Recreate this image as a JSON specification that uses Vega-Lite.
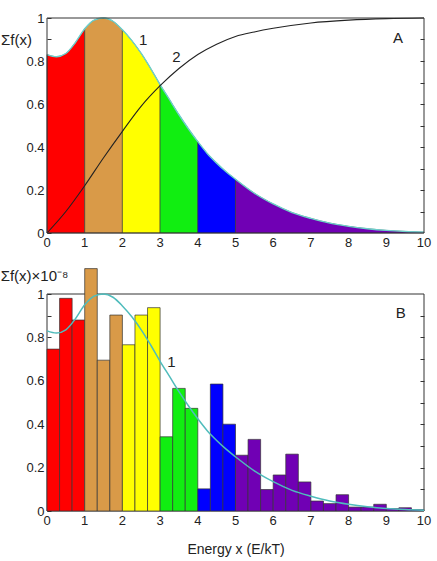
{
  "$schema": "https://vega.github.io/schema/vega-lite/v6.json",
  "padding": {"left": 0, "top": 12, "right": 8, "bottom": 4},
  "autosize": {"type": "pad"},
  "bounds": "flush",
  "spacing": 61,
  "config": {
    "view": {"stroke": null},
    "font": "Liberation Sans",
    "axis": {"labelFont": "Liberation Sans", "labelFontSize": 13, "labelColor": "#222", "titleFont": "Liberation Sans", "titleFontWeight": "normal", "titleColor": "#222", "domain": false, "grid": false, "tickColor": "#333", "labelOverlap": false}
  },
  "datasets": {
    "frame": [{"a": 1}],
    "xt": [{"v": 0}, {"v": 1}, {"v": 2}, {"v": 3}, {"v": 4}, {"v": 5}, {"v": 6}, {"v": 7}, {"v": 8}, {"v": 9}, {"v": 10}],
    "curve": [
      {"x": 0, "y": 0.83}, {"x": 0.25, "y": 0.82}, {"x": 0.5, "y": 0.835}, {"x": 0.75, "y": 0.885},
      {"x": 1, "y": 0.95}, {"x": 1.25, "y": 0.99}, {"x": 1.5, "y": 1.0}, {"x": 1.75, "y": 0.985},
      {"x": 2, "y": 0.945}, {"x": 2.25, "y": 0.895}, {"x": 2.5, "y": 0.835}, {"x": 2.75, "y": 0.765},
      {"x": 3, "y": 0.69}, {"x": 3.25, "y": 0.62}, {"x": 3.5, "y": 0.55}, {"x": 3.75, "y": 0.485},
      {"x": 4, "y": 0.425}, {"x": 4.25, "y": 0.37}, {"x": 4.5, "y": 0.325}, {"x": 4.75, "y": 0.285},
      {"x": 5, "y": 0.25}, {"x": 5.5, "y": 0.185}, {"x": 6, "y": 0.135}, {"x": 6.5, "y": 0.095},
      {"x": 7, "y": 0.068}, {"x": 7.5, "y": 0.046}, {"x": 8, "y": 0.031}, {"x": 8.5, "y": 0.02},
      {"x": 9, "y": 0.012}, {"x": 9.5, "y": 0.007}, {"x": 10, "y": 0.004}
    ],
    "cum": [
      {"x": 0, "y": 0}, {"x": 0.5, "y": 0.1}, {"x": 1, "y": 0.22}, {"x": 1.5, "y": 0.35},
      {"x": 2, "y": 0.473}, {"x": 2.5, "y": 0.59}, {"x": 3, "y": 0.685}, {"x": 3.5, "y": 0.765},
      {"x": 4, "y": 0.83}, {"x": 4.5, "y": 0.878}, {"x": 5, "y": 0.914}, {"x": 5.5, "y": 0.935},
      {"x": 6, "y": 0.952}, {"x": 7, "y": 0.977}, {"x": 8, "y": 0.99}, {"x": 9, "y": 0.997}, {"x": 10, "y": 1.0}
    ],
    "areaA": [
      {"x": 0, "y": 0.83, "seg": "s0"}, {"x": 0.25, "y": 0.82, "seg": "s0"}, {"x": 0.5, "y": 0.835, "seg": "s0"}, {"x": 0.75, "y": 0.885, "seg": "s0"}, {"x": 1, "y": 0.95, "seg": "s0"},
      {"x": 1, "y": 0.95, "seg": "s1"}, {"x": 1.25, "y": 0.99, "seg": "s1"}, {"x": 1.5, "y": 1.0, "seg": "s1"}, {"x": 1.75, "y": 0.985, "seg": "s1"}, {"x": 2, "y": 0.945, "seg": "s1"},
      {"x": 2, "y": 0.945, "seg": "s2"}, {"x": 2.25, "y": 0.895, "seg": "s2"}, {"x": 2.5, "y": 0.835, "seg": "s2"}, {"x": 2.75, "y": 0.765, "seg": "s2"}, {"x": 3, "y": 0.69, "seg": "s2"},
      {"x": 3, "y": 0.69, "seg": "s3"}, {"x": 3.25, "y": 0.62, "seg": "s3"}, {"x": 3.5, "y": 0.55, "seg": "s3"}, {"x": 3.75, "y": 0.485, "seg": "s3"}, {"x": 4, "y": 0.425, "seg": "s3"},
      {"x": 4, "y": 0.425, "seg": "s4"}, {"x": 4.25, "y": 0.37, "seg": "s4"}, {"x": 4.5, "y": 0.325, "seg": "s4"}, {"x": 4.75, "y": 0.285, "seg": "s4"}, {"x": 5, "y": 0.25, "seg": "s4"},
      {"x": 5, "y": 0.25, "seg": "s5"}, {"x": 5.5, "y": 0.185, "seg": "s5"}, {"x": 6, "y": 0.135, "seg": "s5"}, {"x": 6.5, "y": 0.095, "seg": "s5"},
      {"x": 7, "y": 0.068, "seg": "s5"}, {"x": 7.5, "y": 0.046, "seg": "s5"}, {"x": 8, "y": 0.031, "seg": "s5"}, {"x": 8.5, "y": 0.02, "seg": "s5"},
      {"x": 9, "y": 0.012, "seg": "s5"}, {"x": 9.5, "y": 0.007, "seg": "s5"}, {"x": 10, "y": 0.004, "seg": "s5"}
    ],
    "bars": [
      {"x0": 0, "x1": 0.3333, "v": 0.746, "seg": "s0"},
      {"x0": 0.3333, "x1": 0.6667, "v": 0.98, "seg": "s0"},
      {"x0": 0.6667, "x1": 1, "v": 0.88, "seg": "s0"},
      {"x0": 1, "x1": 1.3333, "v": 1.117, "seg": "s1"},
      {"x0": 1.3333, "x1": 1.6667, "v": 0.695, "seg": "s1"},
      {"x0": 1.6667, "x1": 2, "v": 0.903, "seg": "s1"},
      {"x0": 2, "x1": 2.3333, "v": 0.766, "seg": "s2"},
      {"x0": 2.3333, "x1": 2.6667, "v": 0.903, "seg": "s2"},
      {"x0": 2.6667, "x1": 3, "v": 0.937, "seg": "s2"},
      {"x0": 3, "x1": 3.3333, "v": 0.342, "seg": "s3"},
      {"x0": 3.3333, "x1": 3.6667, "v": 0.565, "seg": "s3"},
      {"x0": 3.6667, "x1": 4, "v": 0.473, "seg": "s3"},
      {"x0": 4, "x1": 4.3333, "v": 0.102, "seg": "s4"},
      {"x0": 4.3333, "x1": 4.6667, "v": 0.585, "seg": "s4"},
      {"x0": 4.6667, "x1": 5, "v": 0.40, "seg": "s4"},
      {"x0": 5, "x1": 5.3333, "v": 0.257, "seg": "s5"},
      {"x0": 5.3333, "x1": 5.6667, "v": 0.33, "seg": "s5"},
      {"x0": 5.6667, "x1": 6, "v": 0.099, "seg": "s5"},
      {"x0": 6, "x1": 6.3333, "v": 0.166, "seg": "s5"},
      {"x0": 6.3333, "x1": 6.6667, "v": 0.262, "seg": "s5"},
      {"x0": 6.6667, "x1": 7, "v": 0.134, "seg": "s5"},
      {"x0": 7, "x1": 7.3333, "v": 0.046, "seg": "s5"},
      {"x0": 7.3333, "x1": 7.6667, "v": 0.034, "seg": "s5"},
      {"x0": 7.6667, "x1": 8, "v": 0.075, "seg": "s5"},
      {"x0": 8, "x1": 8.3333, "v": 0.018, "seg": "s5"},
      {"x0": 8.3333, "x1": 8.6667, "v": 0.018, "seg": "s5"},
      {"x0": 8.6667, "x1": 9, "v": 0.031, "seg": "s5"},
      {"x0": 9, "x1": 9.3333, "v": 0.011, "seg": "s5"},
      {"x0": 9.3333, "x1": 9.6667, "v": 0.015, "seg": "s5"},
      {"x0": 9.6667, "x1": 10, "v": 0.006, "seg": "s5"}
    ],
    "labelsA": [
      {"x": 2.55, "y": 0.9, "t": "1"}, {"x": 3.43, "y": 0.82, "t": "2"}, {"x": 9.31, "y": 0.907, "t": "A"}
    ],
    "labelsB": [
      {"x": 3.3, "y": 0.687, "t": "1"}, {"x": 9.38, "y": 0.912, "t": "B"}
    ]
  },
  "vconcat": [
    {
      "width": 377,
      "height": 215,
      "resolve": {"axis": {"y": "independent"}},
      "layer": [
        {
          "data": {"name": "areaA"},
          "mark": {"type": "area", "interpolate": "monotone", "stroke": "#333333", "strokeWidth": 0.6},
          "encoding": {
            "x": {"field": "x", "type": "quantitative", "scale": {"domain": [0, 10], "nice": false},
                  "axis": {"title": null, "values": [0,1,2,3,4,5,6,7,8,9,10], "ticks": false, "labels": false}},
            "y": {"field": "y", "type": "quantitative", "stack": null, "scale": {"domain": [0, 1], "nice": false},
                  "axis": {"title": "Σf(x)", "titleAngle": 0, "titleFontSize": 15, "titleAlign": "center", "titleBaseline": "middle", "titleX": -31, "titleY": 21,
                           "values": [0,0.1,0.2,0.3,0.4,0.5,0.6,0.7,0.8,0.9,1], "format": "~g", "labelExpr": "round(datum.value*10) % 2 == 0 ? datum.label : ''",
                           "tickSize": -4, "labelPadding": 7, "labelFlush": false, "labelOverlap": false}},
            "color": {"field": "seg", "type": "nominal", "legend": null,
                      "scale": {"domain": ["s0","s1","s2","s3","s4","s5"], "range": ["#ff0000","#d99a48","#ffff00","#11ee11","#0000ff","#7000b4"]}}
          }
        },
        {
          "data": {"name": "curve"},
          "mark": {"type": "line", "interpolate": "monotone", "color": "#6dd0cc", "strokeWidth": 1.4},
          "encoding": {
            "x": {"field": "x", "type": "quantitative"},
            "y": {"field": "y", "type": "quantitative", "axis": null}
          }
        },
        {
          "data": {"name": "cum"},
          "mark": {"type": "line", "interpolate": "monotone", "color": "#222222", "strokeWidth": 1.1},
          "encoding": {
            "x": {"field": "x", "type": "quantitative"},
            "y": {"field": "y", "type": "quantitative", "axis": null}
          }
        },
        {
          "data": {"name": "frame"},
          "mark": {"type": "rect", "filled": false, "stroke": "#333333", "strokeWidth": 1},
          "encoding": {
            "x": {"datum": 0, "type": "quantitative"},
            "x2": {"datum": 10},
            "y": {"datum": 0, "type": "quantitative", "axis": null},
            "y2": {"datum": 1}
          }
        },
        {
          "data": {"name": "xt"},
          "mark": {"type": "text", "fontSize": 13, "font": "Liberation Sans", "color": "#222", "baseline": "top", "dy": 4, "clip": false},
          "encoding": {
            "x": {"field": "v", "type": "quantitative"},
            "y": {"datum": 0, "type": "quantitative", "axis": null},
            "text": {"field": "v", "type": "quantitative"}
          }
        },
        {
          "data": {"name": "labelsA"},
          "mark": {"type": "text", "fontSize": 15, "font": "Liberation Sans", "color": "#222"},
          "encoding": {
            "x": {"field": "x", "type": "quantitative"},
            "y": {"field": "y", "type": "quantitative",
                  "axis": {"orient": "right", "title": null, "labels": false, "values": [0.1,0.2,0.3,0.4,0.5,0.6,0.7,0.8,0.9], "tickSize": -4}},
            "text": {"field": "t"}
          }
        }
      ]
    },
    {
      "width": 377,
      "height": 217,
      "resolve": {"axis": {"y": "independent"}},
      "layer": [
        {
          "data": {"name": "frame"},
          "mark": {"type": "rect", "filled": false, "stroke": "#333333", "strokeWidth": 1},
          "encoding": {
            "x": {"datum": 0, "type": "quantitative", "scale": {"domain": [0, 10], "nice": false},
                  "axis": {"title": "Energy x (E/kT)", "titleFontSize": 14, "titlePadding": 31, "values": [0,1,2,3,4,5,6,7,8,9,10], "ticks": false, "labels": false}},
            "x2": {"datum": 10},
            "y": {"datum": 0, "type": "quantitative", "scale": {"domain": [0, 1], "nice": false},
                  "axis": {"title": "Σf(x)×10⁻⁸", "titleAngle": 0, "titleFontSize": 15, "titleAlign": "center", "titleBaseline": "middle", "titleX": -13, "titleY": -19,
                           "values": [0,0.1,0.2,0.3,0.4,0.5,0.6,0.7,0.8,0.9,1], "format": "~g", "labelExpr": "round(datum.value*10) % 2 == 0 ? datum.label : ''",
                           "tickSize": -4, "labelPadding": 7, "labelFlush": false, "labelOverlap": false}},
            "y2": {"datum": 1}
          }
        },
        {
          "data": {"name": "bars"},
          "mark": {"type": "bar", "stroke": "#333333", "strokeWidth": 0.7, "clip": false},
          "encoding": {
            "x": {"field": "x0", "type": "quantitative", "title": "Energy x (E/kT)"},
            "x2": {"field": "x1"},
            "y": {"field": "v", "type": "quantitative", "stack": null, "axis": null},
            "y2": {"datum": 0},
            "color": {"field": "seg", "type": "nominal", "legend": null,
                      "scale": {"domain": ["s0","s1","s2","s3","s4","s5"], "range": ["#ff0000","#d99a48","#ffff00","#11ee11","#0000ff","#7000b4"]}}
          }
        },
        {
          "data": {"name": "curve"},
          "mark": {"type": "line", "interpolate": "monotone", "color": "#4fbcbc", "strokeWidth": 1.5},
          "encoding": {
            "x": {"field": "x", "type": "quantitative", "title": "Energy x (E/kT)"},
            "y": {"field": "y", "type": "quantitative", "axis": null}
          }
        },
        {
          "data": {"name": "xt"},
          "mark": {"type": "text", "fontSize": 13, "font": "Liberation Sans", "color": "#222", "baseline": "top", "dy": 4, "clip": false},
          "encoding": {
            "x": {"field": "v", "type": "quantitative", "title": "Energy x (E/kT)"},
            "y": {"datum": 0, "type": "quantitative", "axis": null},
            "text": {"field": "v", "type": "quantitative"}
          }
        },
        {
          "data": {"name": "labelsB"},
          "mark": {"type": "text", "fontSize": 15, "font": "Liberation Sans", "color": "#222"},
          "encoding": {
            "x": {"field": "x", "type": "quantitative", "title": "Energy x (E/kT)"},
            "y": {"field": "y", "type": "quantitative",
                  "axis": {"orient": "right", "title": null, "labels": false, "values": [0.1,0.2,0.3,0.4,0.5,0.6,0.7,0.8,0.9], "tickSize": -4}},
            "text": {"field": "t"}
          }
        }
      ]
    }
  ]
}
